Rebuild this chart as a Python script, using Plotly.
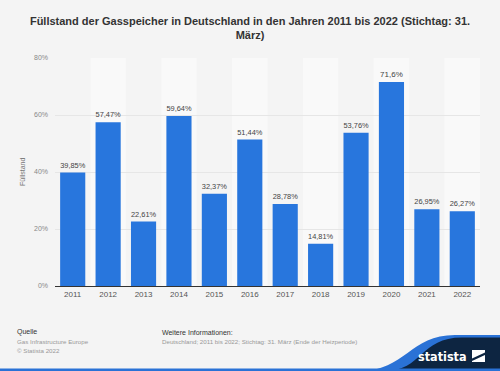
import plotly.graph_objects as go

years = ["2011", "2012", "2013", "2014", "2015", "2016", "2017", "2018", "2019", "2020", "2021", "2022"]
values = [39.85, 57.47, 22.61, 59.64, 32.37, 51.44, 28.78, 14.81, 53.76, 71.6, 26.95, 26.27]
labels = ["39,85%", "57,47%", "22,61%", "59,64%", "32,37%", "51,44%", "28,78%", "14,81%", "53,76%", "71,6%", "26,95%", "26,27%"]
y_ticks = [0, 20, 40, 60, 80]
y_tick_text = ["0%", "20%", "40%", "60%", "80%"]

W, H = 500, 371
L, R, T, B = 55, 20, 58, 85
PW, PH = W - L - R, H - T - B

def px(x):
    return (x - L) / PW

def py(y):
    return (H - B - y) / PH

FONT = "Liberation Sans, Arial, sans-serif"

fig = go.Figure()
fig.add_trace(go.Bar(
    x=years, y=values, text=labels, textposition="outside",
    textfont=dict(size=8, color="#444444", family=FONT),
    marker=dict(color="#2876DD", line=dict(width=0)),
    cliponaxis=False, hoverinfo="skip",
))

shapes = []
# alternating column bands
for i in range(1, len(years), 2):
    shapes.append(dict(type="rect", xref="x", yref="paper", x0=i - 0.5, x1=i + 0.5,
                       y0=0, y1=1, fillcolor="#f9f9f9", line=dict(width=0), layer="below"))

# footer logo wave (decoration); one command per segment
def path(segments):
    s = ""
    for cmd, pts in segments:
        s += cmd + " ".join(f"{px(a):.5f},{py(b):.5f}" for a, b in pts) + " "
    return s + "Z"

blue_wave = path([
    ("M", [(360, 371)]),
    ("C", [(405, 371), (410, 335), (455, 335)]),
    ("L", [(500, 335)]),
    ("L", [(500, 371)]),
])
dark_wave = path([
    ("M", [(385, 371)]),
    ("C", [(422, 371), (420, 337.5), (462, 337.5)]),
    ("L", [(500, 337.5)]),
    ("L", [(500, 371)]),
])
shapes.append(dict(type="path", xref="paper", yref="paper", path=blue_wave,
                   fillcolor="#2a72d6", line=dict(width=0), layer="above"))
shapes.append(dict(type="path", xref="paper", yref="paper", path=dark_wave,
                   fillcolor="#0d2541", line=dict(width=0), layer="above"))
# bottom blue line
shapes.append(dict(type="rect", xref="paper", yref="paper", x0=px(0), x1=px(500),
                   y0=py(371), y1=py(368.5), fillcolor="#2a72d6", line=dict(width=0)))
# logo icon
shapes.append(dict(type="rect", xref="paper", yref="paper", x0=px(472), x1=px(485),
                   y0=py(362), y1=py(350), fillcolor="#ffffff", line=dict(width=0)))
shapes.append(dict(type="path", xref="paper", yref="paper",
                   path=path([("M", [(472, 358.5)]), ("L", [(485, 352.5)]), ("L", [(485, 355)]), ("L", [(472, 361)])]),
                   fillcolor="#0d2541", line=dict(width=0)))

def ann(text, x, y, size, color, **kw):
    d = dict(text=text, xref="paper", yref="paper", x=px(x), y=py(y), xanchor="left",
             yanchor="middle", showarrow=False, font=dict(size=size, color=color, family=FONT))
    d.update(kw)
    return d

annotations = [
    ann("Füllstand", 22, 172, 7, "#777777", xanchor="center", textangle=-90),
    ann("Quelle", 15, 332, 7, "#333333"),
    ann("Gas Infrastructure Europe", 15, 341, 6.2, "#999999"),
    ann("© Statista 2022", 15, 350, 6.2, "#999999"),
    ann("Weitere Informationen:", 160, 332, 7, "#333333"),
    ann("Deutschland; 2011 bis 2022; Stichtag: 31. März (Ende der Heizperiode)", 160, 341, 6.2, "#999999"),
    dict(text="<b>statista</b>", xref="paper", yref="paper", x=px(469), y=py(356), xanchor="right",
         yanchor="middle", showarrow=False,
         font=dict(size=12.5, color="#ffffff", family="DejaVu Sans Condensed, Liberation Sans Narrow, sans-serif")),
]

fig.update_layout(
    width=W, height=H,
    margin=dict(l=L, r=R, t=T, b=B),
    paper_bgcolor="#f4f4f4", plot_bgcolor="#f4f4f4",
    title=dict(text="<b>Füllstand der Gasspeicher in Deutschland in den Jahren 2011 bis 2022 (Stichtag: 31.<br>März)</b>",
               x=0.5, xanchor="center", y=1 - 25 / H, yanchor="middle",
               font=dict(size=11, color="#333333", family=FONT)),
    bargap=0.29,
    showlegend=False,
    shapes=shapes,
    annotations=annotations,
    xaxis=dict(type="category", showgrid=False, showline=True, linecolor="#333333", linewidth=1,
               ticks="", tickfont=dict(size=8, color="#555555", family=FONT), fixedrange=True),
    yaxis=dict(range=[0, 80], tickvals=y_ticks, ticktext=y_tick_text, showgrid=True,
               gridcolor="#e6e6e6", gridwidth=1, zeroline=False, showline=False,
               tickfont=dict(size=7, color="#888888", family=FONT), ticklabelstandoff=6, fixedrange=True),
)

fig.write_html("out.html", config={"displayModeBar": False},
               post_script="document.body.style.margin='0';document.body.style.overflow='hidden';")
